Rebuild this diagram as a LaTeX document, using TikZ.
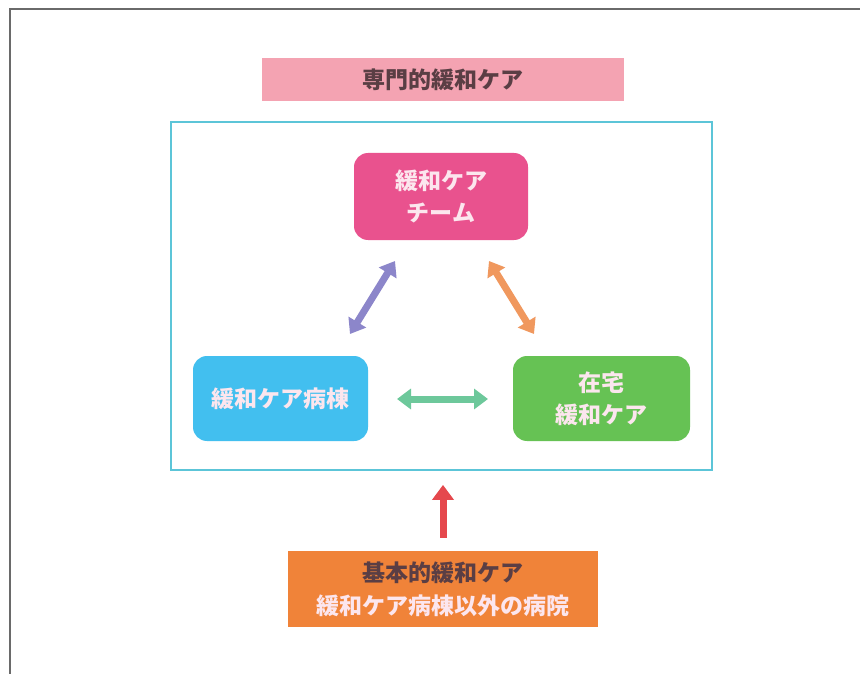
\documentclass[tikz,border=0pt]{standalone}
\usepackage{fontspec}
\newfontfamily\cjk{Noto Sans CJK JP}
\usetikzlibrary{arrows.meta}
\definecolor{hdrpink}{HTML}{F4A3B2}
\definecolor{teampink}{HTML}{E9528E}
\definecolor{wardblue}{HTML}{42BFEF}
\definecolor{homegreen}{HTML}{66C254}
\definecolor{arrpurple}{HTML}{8C86CA}
\definecolor{arrorange}{HTML}{F0985E}
\definecolor{arrgreen}{HTML}{6DC89B}
\definecolor{arrred}{HTML}{E5484D}
\definecolor{basicorange}{HTML}{F08339}
\definecolor{framecyan}{HTML}{5CC5D8}
\definecolor{framegray}{HTML}{6A6A6A}
\definecolor{darktext}{HTML}{5A3E44}
\definecolor{lighttext}{HTML}{FCE6EE}
\tikzset{
  px/.style={x=1pt,y=-1pt},
  rbox/.style={rounded corners=14pt, inner sep=0pt, align=center, font=\cjk\fontsize{23}{32}\selectfont\bfseries, text=lighttext},
  dblarrow/.style={line width=7pt, {Triangle[width=20pt,length=14pt]}-{Triangle[width=20pt,length=14pt]}},
  uparrow/.style={line width=7pt, -{Triangle[width=21pt,length=15pt]}}
}
\begin{document}
\begin{tikzpicture}[px]
\useasboundingbox (0,0) rectangle (860,674);
\fill[white] (0,0) rectangle (860,674);
% outer gray frame (top and left)
\draw[framegray, line width=2.5pt] (10,674) -- (10,9) -- (860,9);
% header
\node[fill=hdrpink, minimum width=362pt, minimum height=43pt, inner sep=0pt, font=\cjk\fontsize{23}{26}\selectfont\bfseries, text=darktext] (hdr) at (443,79.5) {専門的緩和ケア};
% cyan frame
\node[draw=framecyan, line width=1.8pt, minimum width=541pt, minimum height=348pt, inner sep=0pt] (frame) at (441.5,296) {};
% boxes
\node[rbox, fill=teampink, minimum width=174pt, minimum height=87pt] (team) at (441,196.5) {緩和ケア\\チーム};
\node[rbox, fill=wardblue, minimum width=175pt, minimum height=85pt] (ward) at (280.5,398.5) {緩和ケア病棟};
\node[rbox, fill=homegreen, minimum width=177pt, minimum height=85pt] (home) at (601.5,398.5) {在宅\\緩和ケア};
% arrow end coordinates
\coordinate (p1) at (350,334);
\coordinate (p2) at (395,261);
\coordinate (o1) at (489,261);
\coordinate (o2) at (534,334);
\coordinate (g1) at (397,399);
\coordinate (g2) at (488,399);
\draw[dblarrow, arrpurple] (p1) -- (p2);
\draw[dblarrow, arrorange] (o1) -- (o2);
\draw[dblarrow, arrgreen] (g1) -- (g2);
% bottom box
\node[fill=basicorange, minimum width=310pt, minimum height=76pt, inner sep=0pt, align=center, font=\cjk\fontsize{23}{33}\selectfont\bfseries] (basic) at (443,589) {\textcolor{darktext}{基本的緩和ケア}\\\textcolor{lighttext}{緩和ケア病棟以外の病院}};
\draw[uparrow, arrred, shorten <=13pt, shorten >=14pt] (basic.north) -- (basic.north |- frame.south);
\end{tikzpicture}
\end{document}
